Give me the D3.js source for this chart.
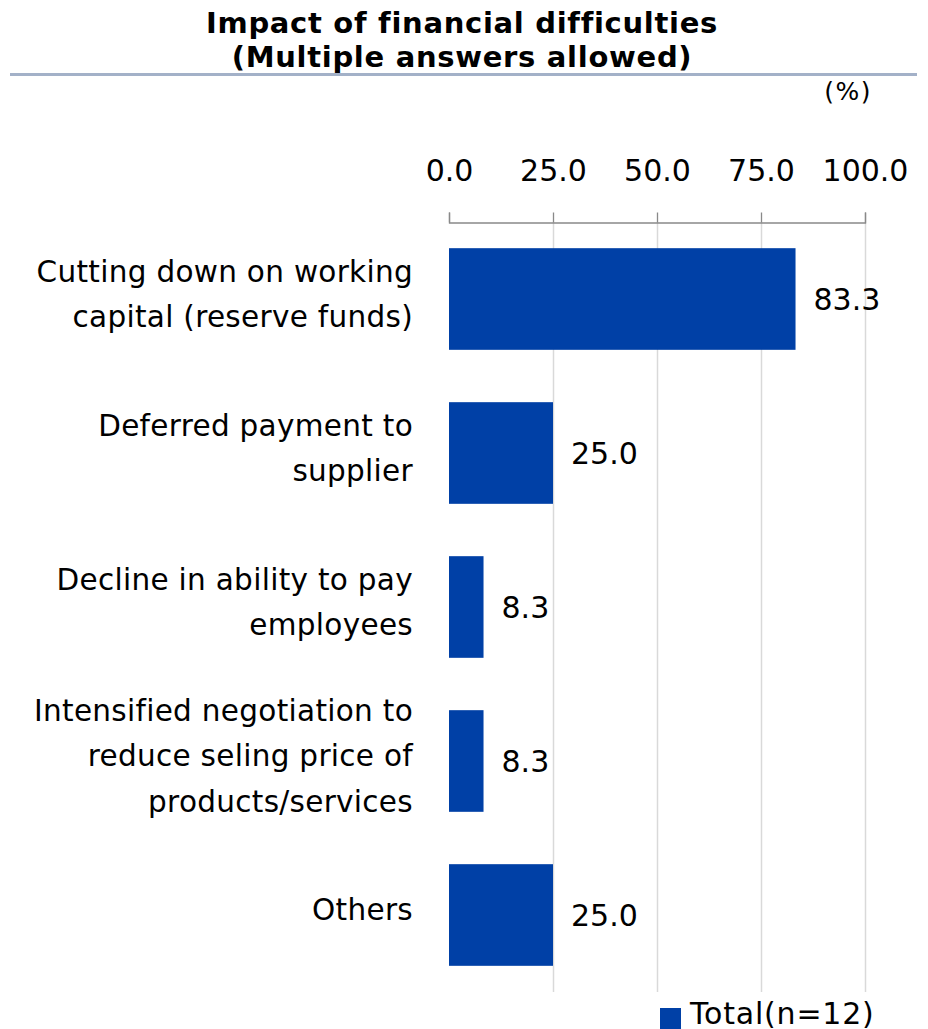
<!DOCTYPE html>
<html>
<head>
<meta charset="utf-8">
<script src="https://cdn.jsdelivr.net/npm/d3@7"></script>
<style>
  html, body { margin: 0; padding: 0; background: #fff; }
  svg { display: block; }
</style>
</head>
<body>
<svg id="chart" width="928" height="1029"></svg>
<script>
// Survey items (top to bottom) and share of respondents, %
const categories = [
  ["Cutting down on working", "capital (reserve funds)"],
  ["Deferred payment to", "supplier"],
  ["Decline in ability to pay", "employees"],
  ["Intensified negotiation to", "reduce seling price of", "products/services"],
  ["Others"]
];
const values = [83.3, 25.0, 8.3, 8.3, 25.0];
const tickValues = [0, 25, 50, 75, 100];
const titleLines = ["Impact of financial difficulties", "(Multiple answers allowed)"];
const seriesName = "Total(n=12)";

const BAR = "#0040a6";
const FONT = "'DejaVu Sans', Verdana, sans-serif";

const svg = d3.select("#chart");

const x = d3.scaleLinear().domain([0, 100]).range([449, 865]);
const y = d3.scaleBand()
  .domain(d3.range(categories.length))
  .range([222, 992])
  .paddingInner(0.34)
  .paddingOuter(0.17);

// Title
const title = svg.append("text")
  .attr("text-anchor", "middle")
  .attr("font-family", FONT)
  .attr("font-weight", "bold")
  .attr("font-size", 29)
  .attr("letter-spacing", 0.7)
  .attr("fill", "#000");
titleLines.forEach((t, i) => {
  title.append("tspan").attr("x", 462).attr("y", 33 + i * 34).text(t);
});

// Rule under the title
svg.append("line")
  .attr("x1", 10).attr("x2", 917)
  .attr("y1", 74.5).attr("y2", 74.5)
  .attr("stroke", "#a3b1c8")
  .attr("stroke-width", 3);

// Unit label
svg.append("text")
  .attr("x", 872).attr("y", 100)
  .attr("text-anchor", "end")
  .attr("font-family", FONT)
  .attr("font-size", 25)
  .attr("letter-spacing", 1.5)
  .attr("fill", "#000")
  .text("(%)");

// Vertical gridlines
svg.append("g")
  .selectAll("line")
  .data(tickValues.slice(1))
  .join("line")
  .attr("x1", d => x(d) + 0.5).attr("x2", d => x(d) + 0.5)
  .attr("y1", 222).attr("y2", 992)
  .attr("stroke", "#d9d9d9")
  .attr("stroke-width", 1.5);

// Top axis
const axis = svg.append("g")
  .attr("transform", "translate(0,222.5)")
  .call(d3.axisTop(x)
    .tickValues(tickValues)
    .tickFormat(d3.format(".1f"))
    .tickSize(10)
    .tickPadding(32));
axis.select(".domain").attr("stroke", "#898989").attr("stroke-width", 1.3);
axis.selectAll(".tick line").attr("stroke", "#898989").attr("stroke-width", 1.3);
axis.selectAll(".tick text")
  .attr("font-family", FONT)
  .attr("font-size", 30)
  .attr("fill", "#000");

// Bars
svg.append("g")
  .selectAll("rect")
  .data(values)
  .join("rect")
  .attr("x", x(0))
  .attr("y", (d, i) => y(i))
  .attr("width", d => x(d) - x(0))
  .attr("height", y.bandwidth())
  .attr("fill", BAR);

// Value labels
svg.append("g")
  .selectAll("text")
  .data(values)
  .join("text")
  .attr("x", d => x(d) + 18)
  .attr("y", (d, i) => y(i) + y.bandwidth() / 2)
  .attr("dy", "0.35em")
  .attr("font-family", FONT)
  .attr("font-size", 30)
  .attr("fill", "#000")
  .text(d => d3.format(".1f")(d));

// Category labels
const lineH = 45.5;
svg.append("g")
  .selectAll("text")
  .data(categories)
  .join("text")
  .attr("text-anchor", "end")
  .attr("font-family", FONT)
  .attr("font-size", 29.5)
  .attr("letter-spacing", 0.3)
  .attr("fill", "#000")
  .each(function (lines, i) {
    const cy = y(i) + y.bandwidth() / 2 - 5;
    const top = cy - (lines.length - 1) * lineH / 2;
    d3.select(this).selectAll("tspan")
      .data(lines)
      .join("tspan")
      .attr("x", 413)
      .attr("y", (d, j) => top + j * lineH)
      .attr("dy", "0.35em")
      .text(d => d);
  });

// Legend
svg.append("rect")
  .attr("x", 660).attr("y", 1008)
  .attr("width", 21).attr("height", 21)
  .attr("fill", BAR);
svg.append("text")
  .attr("x", 690).attr("y", 1024)
  .attr("font-family", FONT)
  .attr("font-size", 30)
  .attr("letter-spacing", 0.8)
  .attr("fill", "#000")
  .text(seriesName);
</script>
</body>
</html>
